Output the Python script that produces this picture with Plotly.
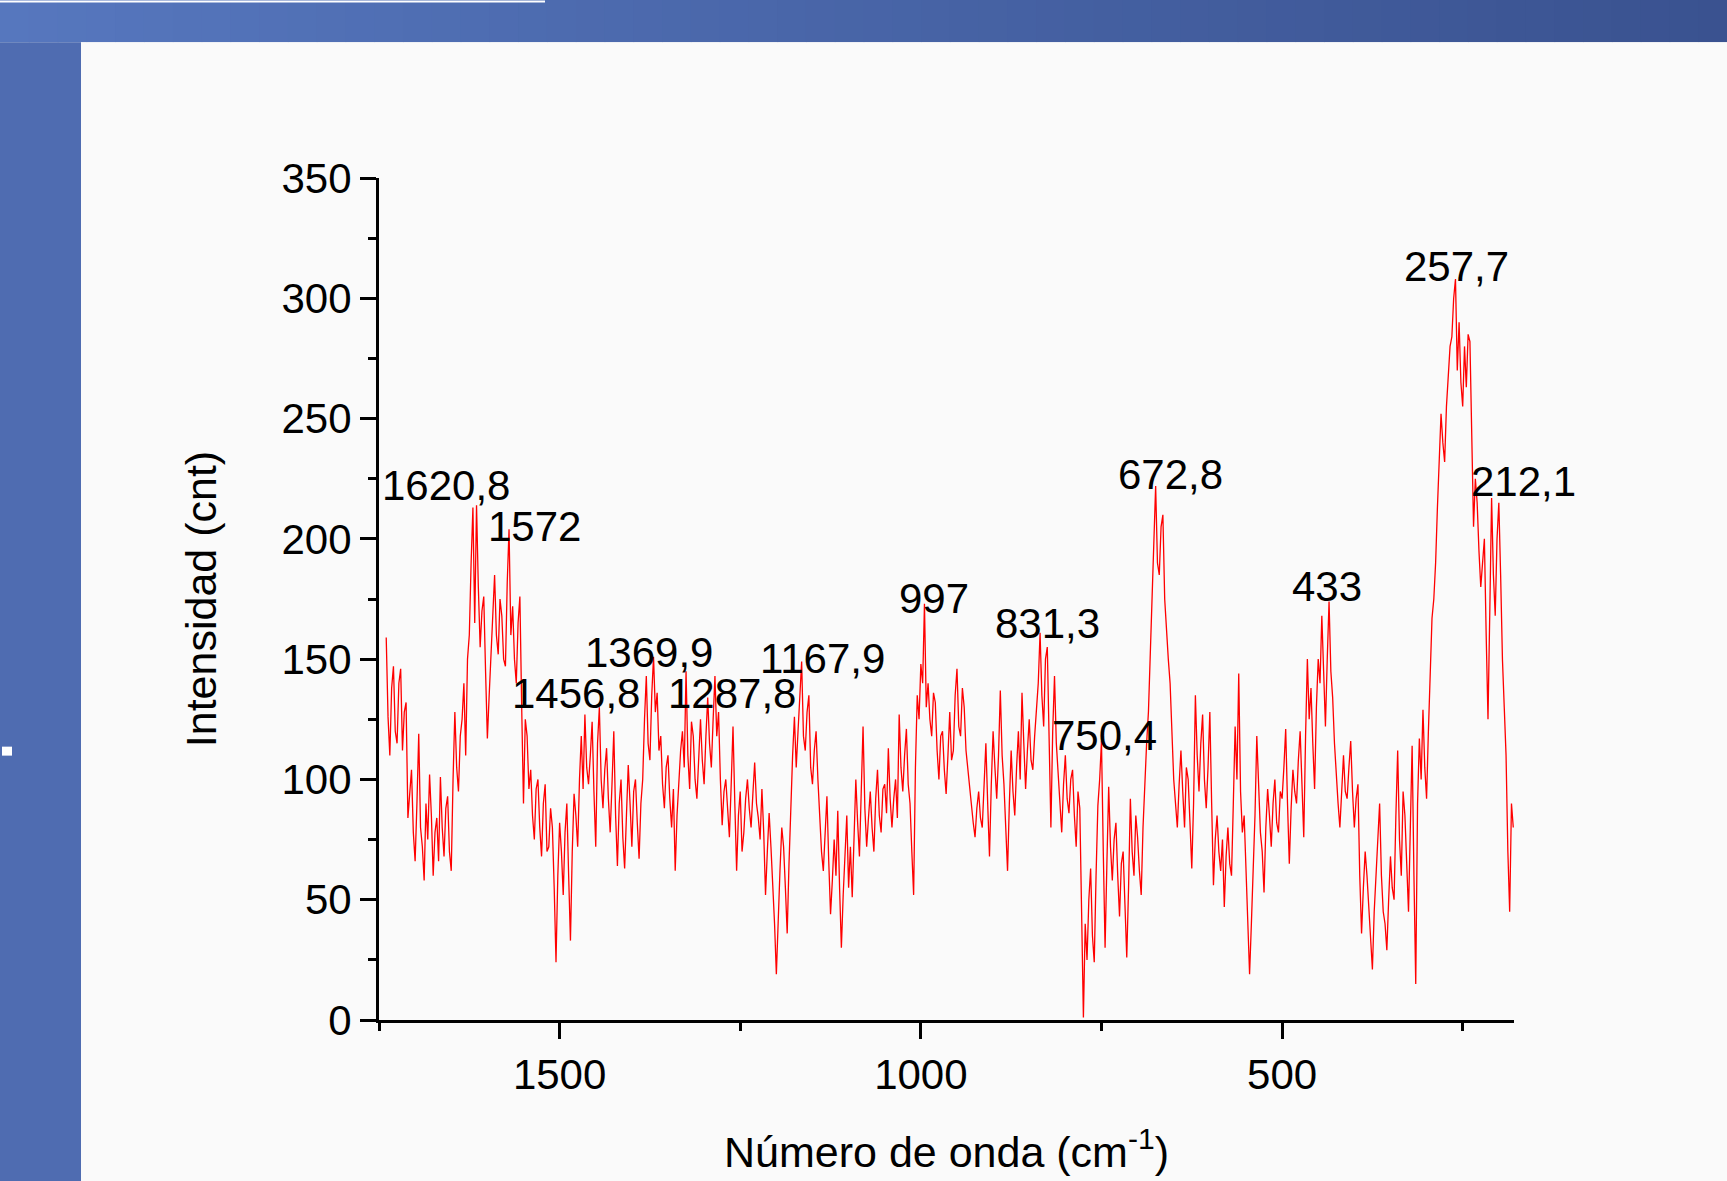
import plotly.graph_objects as go

# ---------------- data ----------------
WAVENUMBER_START = 1740.0   # cm-1, first sample
WAVENUMBER_STEP = 2.5       # cm-1 between samples (descending)

INTENSITY = [
    # 1740 -> 1692.5
    159, 126, 110, 138, 147, 120, 115, 140, 146, 112, 128, 132, 84, 95, 104, 78, 66, 90, 119, 80,
    # 1690 -> 1642.5
    72, 58, 90, 75, 102, 85, 60, 78, 84, 66, 101, 80, 68, 88, 93, 70, 62, 100, 128, 105,
    # 1640 -> 1592.5
    95, 118, 125, 140, 110, 150, 160, 190, 213, 165, 214, 180, 155, 170, 176, 145, 117, 135, 150, 165,
    # 1590 -> 1542.5
    185, 160, 152, 175, 168, 150, 147, 182, 204, 160, 172, 150, 140, 165, 176, 130, 90, 125, 118, 96,
    # 1540 -> 1492.5
    104, 85, 75, 96, 100, 80, 68, 90, 98, 70, 72, 88, 80, 55, 24, 60, 82, 70, 52, 78,
    # 1490 -> 1442.5
    90, 60, 33, 70, 94, 85, 72, 100, 118, 96, 127, 105, 98, 110, 124, 95, 72, 115, 130, 100,
    # 1440 -> 1392.5
    88, 104, 113, 92, 78, 98, 120, 85, 64, 90, 100, 76, 63, 85, 106, 90, 72, 95, 100, 82,
    # 1390 -> 1342.5
    67, 90, 100, 125, 143, 115, 108, 135, 151, 128, 136, 112, 118, 98, 88, 105, 110, 92, 80, 96,
    # 1340 -> 1292.5
    62, 85, 100, 112, 120, 105, 145, 110, 96, 124, 118, 100, 92, 112, 125, 108, 98, 118, 134, 115,
    # 1290 -> 1242.5
    105, 125, 143, 118, 128, 100, 81, 95, 100, 88, 76, 98, 122, 90, 62, 85, 95, 70, 78, 92,
    # 1240 -> 1192.5
    100, 88, 80, 94, 107, 90, 84, 75, 96, 78, 52, 70, 86, 72, 58, 40, 19, 45, 62, 80,
    # 1190 -> 1142.5
    72, 55, 36, 65, 90, 110, 126, 105, 120, 135, 149, 118, 112, 128, 135, 105, 98, 112, 120, 100,
    # 1140 -> 1092.5
    86, 70, 62, 80, 93, 66, 44, 58, 75, 60, 87, 55, 30, 52, 70, 85, 55, 72, 51, 78,
    # 1090 -> 1042.5
    100, 82, 68, 95, 122, 88, 72, 84, 95, 80, 70, 92, 104, 85, 78, 96, 98, 86, 113, 92,
    # 1040 -> 992.5
    80, 92, 100, 84, 127, 105, 95, 110, 121, 98, 90, 70, 52, 105, 135, 125, 148, 140, 173, 130,
    # 990 -> 942.5
    140, 125, 118, 136, 132, 112, 100, 118, 120, 104, 94, 110, 128, 108, 112, 135, 146, 122, 118, 138,
    # 940 -> 892.5
    130, 112, 104, 95, 90, 82, 76, 88, 95, 84, 80, 102, 115, 90, 68, 98, 120, 105, 92, 110,
    # 890 -> 842.5
    137, 110, 98, 80, 62, 90, 112, 95, 85, 105, 120, 100, 136, 115, 96, 112, 125, 108, 104, 118,
    # 840 -> 792.5
    128, 140, 161, 135, 122, 150, 155, 110, 80, 120, 143, 115, 103, 90, 78, 98, 110, 92, 86, 100,
    # 790 -> 742.5
    104, 85, 72, 95, 88, 45, 1, 40, 25, 50, 63, 35, 24, 60, 89, 100, 116, 70, 30, 65,
    # 740 -> 692.5
    97, 72, 58, 75, 82, 60, 43, 65, 70, 48, 26, 55, 92, 70, 60, 85, 76, 62, 52, 80,
    # 690 -> 642.5
    102, 115, 128, 150, 175, 200, 222, 190, 185, 205, 210, 175, 160, 150, 140, 120, 100, 90, 80, 98,
    # 640 -> 592.5
    112, 95, 80, 105, 100, 82, 63, 90, 135, 110, 95, 115, 127, 100, 88, 105, 128, 90, 56, 75,
    # 590 -> 542.5
    85, 70, 62, 75, 47, 68, 80, 65, 60, 90, 122, 100, 144, 95, 78, 85, 62, 45, 19, 40,
    # 540 -> 492.5
    60, 85, 118, 95, 78, 70, 53, 80, 96, 85, 72, 90, 100, 82, 78, 95, 92, 105, 121, 90,
    # 490 -> 442.5
    65, 88, 104, 95, 90, 108, 120, 98, 76, 118, 150, 125, 138, 115, 96, 130, 150, 140, 168, 145,
    # 440 -> 392.5
    122, 150, 174, 145, 134, 115, 100, 90, 80, 98, 110, 95, 92, 105, 116, 95, 80, 92, 98, 60,
    # 390 -> 342.5
    36, 55, 70, 60, 48, 38, 21, 45, 62, 75, 90, 60, 45, 40, 29, 50, 68, 55, 50, 85,
    # 340 -> 292.5
    112, 75, 60, 95, 85, 65, 45, 80, 114, 60, 15, 90, 117, 100, 129, 105, 92, 120, 142, 167,
    # 290 -> 242.5
    175, 190, 213, 235, 252, 240, 232, 255, 267, 280, 284, 300, 308, 270, 290, 265, 255, 280, 263, 285,
    # 240 -> 192.5
    282, 240, 205, 225, 215, 195, 180, 190, 200, 160, 125, 170, 217, 185, 168, 200, 215, 185, 150, 130,
    # 190 -> 180
    110, 70, 45, 90, 80,
]
WAVENUMBER = [WAVENUMBER_START - WAVENUMBER_STEP * i for i in range(len(INTENSITY))]

PEAK_LABELS = ["1620,8", "1572", "1456,8", "1369,9", "1287,8", "1167,9", "997",
               "831,3", "750,4", "672,8", "433", "257,7", "212,1"]
# label anchor positions (data units)
LABEL_X = [1657.6, 1534.6, 1477.9, 1375.6, 1260.9, 1136.4, 981.6,
           824.7, 745.2, 653.9, 438.2, 258.5, 165.9]
LABEL_Y = [222.3, 205.1, 135.6, 152.6, 135.6, 150.1, 175.4,
           164.8, 118.2, 226.8, 180.0, 313.3, 223.9]

X_RANGE = [1750, 179]
Y_RANGE = [0, 350]
X_TICKS = [500, 1000, 1500]
Y_TICKS = [0, 50, 100, 150, 200, 250, 300, 350]

# ---------------- layout ----------------
W, H = 1727, 1181
L, R, T, B = 379, 213, 178, 159
PW, PH = W - L - R, H - T - B
FONT = "Liberation Sans, Arial, sans-serif"
PANEL = "#FAFAFA"


def px_x(px):
    return (px - L) / PW


def px_y(py):
    return (H - B - py) / PH


shapes = []
# top banner gradient
c0 = (86, 119, 190)
c1 = (58, 82, 144)
N = 60
for i in range(N):
    f = i / (N - 1)
    col = "rgb(%d,%d,%d)" % tuple(round(a + (b - a) * f) for a, b in zip(c0, c1))
    shapes.append(dict(type="rect", xref="paper", yref="paper", layer="below",
                       x0=px_x(W * i / N), x1=px_x(W * (i + 1) / N + 1),
                       y0=px_y(-2), y1=px_y(42), fillcolor=col, line_width=0))
# left strip
shapes.append(dict(type="rect", xref="paper", yref="paper", layer="below",
                   x0=px_x(-2), x1=px_x(81), y0=px_y(42), y1=px_y(H + 4),
                   fillcolor="#4F6CB1", line_width=0))
# white panel
shapes.append(dict(type="rect", xref="paper", yref="paper", layer="below",
                   x0=px_x(81), x1=px_x(W + 4), y0=px_y(42), y1=px_y(H + 4),
                   fillcolor=PANEL, line_width=0))
# thin white line at top-left
shapes.append(dict(type="rect", xref="paper", yref="paper", layer="below",
                   x0=px_x(0), x1=px_x(545), y0=px_y(0), y1=px_y(2),
                   fillcolor="white", line_width=0))
# small white square on left strip
shapes.append(dict(type="rect", xref="paper", yref="paper", layer="below",
                   x0=px_x(2), x1=px_x(12), y0=px_y(748), y1=px_y(757),
                   fillcolor="white", line_width=0))

fig = go.Figure()
fig.add_trace(go.Scatter(x=WAVENUMBER, y=INTENSITY, mode="lines",
                         line=dict(color="#FF0000", width=1.3),
                         hoverinfo="skip", showlegend=False))


def to_paper_x(x):
    return (X_RANGE[0] - x) / (X_RANGE[0] - X_RANGE[1])


def to_paper_y(y):
    return (y - Y_RANGE[0]) / (Y_RANGE[1] - Y_RANGE[0])


annotations = [dict(x=to_paper_x(x), y=to_paper_y(y), text=t, showarrow=False,
                    xref="paper", yref="paper",
                    xanchor="center", yanchor="middle",
                    font=dict(family=FONT, size=42, color="black"))
               for t, x, y in zip(PEAK_LABELS, LABEL_X, LABEL_Y)]

fig.update_layout(
    width=W, height=H,
    margin=dict(l=L, r=R, t=T, b=B, pad=0),
    paper_bgcolor=PANEL,
    plot_bgcolor=PANEL,
    shapes=shapes,
    annotations=annotations,
    font=dict(family=FONT, color="black"),
    xaxis=dict(
        range=X_RANGE,
        tickvals=X_TICKS,
        ticktext=[str(v) for v in X_TICKS],
        showgrid=False, zeroline=False,
        showline=True, linecolor="black", linewidth=3,
        ticks="outside", ticklen=16, tickwidth=3, tickcolor="black",
        minor=dict(dtick=250, tick0=0, ticks="outside", ticklen=8,
                   tickwidth=3, tickcolor="black", showgrid=False),
        tickfont=dict(family=FONT, size=42, color="black"),
        title=dict(text="Número de onda (cm<sup>-1</sup>)",
                   font=dict(family=FONT, size=43, color="black"),
                   standoff=40),
    ),
    yaxis=dict(
        range=Y_RANGE,
        tickvals=Y_TICKS,
        showgrid=False, zeroline=False,
        showline=True, linecolor="black", linewidth=3,
        ticks="outside", ticklen=16, tickwidth=3, tickcolor="black",
        minor=dict(dtick=25, tick0=0, ticks="outside", ticklen=8,
                   tickwidth=3, tickcolor="black", showgrid=False),
        tickfont=dict(family=FONT, size=42, color="black"),
        title=dict(text="Intensidad (cnt)",
                   font=dict(family=FONT, size=43, color="black"),
                   standoff=52),
    ),
)

fig.write_html("out.html", config=dict(displayModeBar=False),
               post_script="document.body.style.margin='0';")
